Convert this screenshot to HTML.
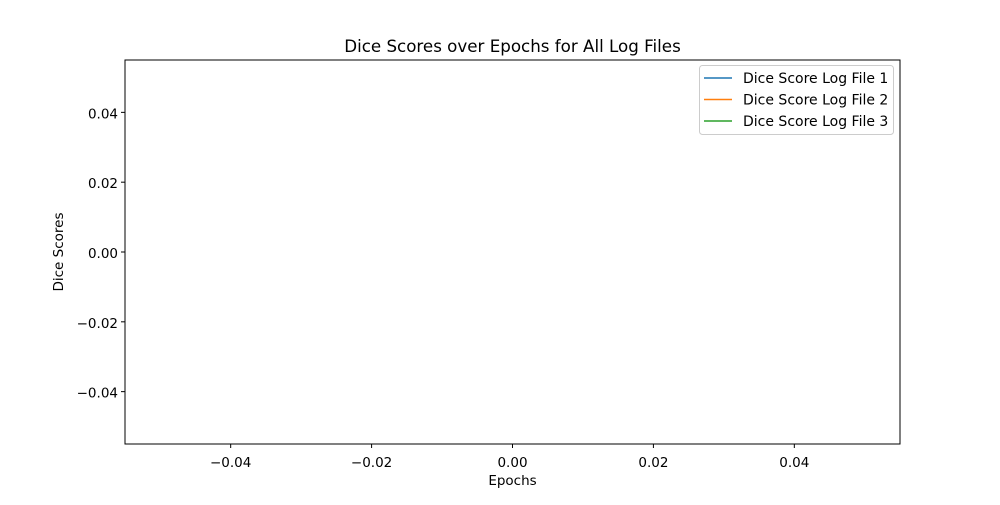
<!DOCTYPE html>
<html><head><meta charset="utf-8"><style>
body{margin:0;background:#fff;}
svg text{font-family:"DejaVu Sans","Liberation Sans",sans-serif;fill:#000;}
</style></head><body>
<svg width="1000" height="500" viewBox="0 0 1000 500">
<rect width="1000" height="500" fill="#fff"/>
<text x="512.5" y="52" font-size="16.7" text-anchor="middle">Dice Scores over Epochs for All Log Files</text>
<g id="xticks"></g>
<g id="yticks"></g>
<g id="series"></g>
<rect x="125" y="60" width="775" height="384" fill="none" stroke="#000" stroke-width="1"/>
<text x="512.5" y="485" font-size="13.5" text-anchor="middle">Epochs</text>
<text x="63" y="252" font-size="13.5" text-anchor="middle" transform="rotate(-90 63 252)">Dice Scores</text>
<g>
<rect x="699.5" y="65.5" width="194" height="69" rx="3" fill="#fff" stroke="#ccc"/>
<g id="legend-items"></g>
</g>
</svg>
<script>
const seriesNames=["Dice Score Log File 1","Dice Score Log File 2","Dice Score Log File 3"];
const seriesColors=["#1f77b4","#ff7f0e","#2ca02c"];
const epochs1=[],epochs2=[],epochs3=[];
const scores1=[],scores2=[],scores3=[];
const xTickValues=[-0.04,-0.02,0.00,0.02,0.04];
const yTickValues=[0.04,0.02,0.00,-0.02,-0.04];
const xTickLabels=["\u22120.04","\u22120.02","0.00","0.02","0.04"];
const yTickLabels=["0.04","0.02","0.00","\u22120.02","\u22120.04"];
const NS="http://www.w3.org/2000/svg";
const xmin=-0.055,xmax=0.055,ymin=-0.055,ymax=0.055;
const L=125,R=900,T=60,B=444;
const xs=v=>L+(v-xmin)/(xmax-xmin)*(R-L);
const ys=v=>B-(v-ymin)/(ymax-ymin)*(B-T);
function mk(tag,attrs,parent){const e=document.createElementNS(NS,tag);for(const k in attrs)e.setAttribute(k,attrs[k]);parent.appendChild(e);return e;}
const gx=document.getElementById('xticks'),gy=document.getElementById('yticks');
xTickValues.forEach((v,i)=>{const x=xs(v);
 const l=mk('line',{x1:x,x2:x,y1:B,y2:B+4,stroke:'#000'},gx);
 
 
 const t=mk('text',{x:x,y:B+23,'font-size':13.5,'text-anchor':'middle'},gx);t.textContent=xTickLabels[i];
 
 });
yTickValues.forEach((v,i)=>{const y=ys(v);
 const l=mk('line',{x1:L-4,x2:L,y1:y,y2:y,stroke:'#000'},gy);
 
 
 const t=mk('text',{x:L-7,y:y+6,'font-size':13.5,'text-anchor':'end'},gy);t.textContent=yTickLabels[i];
 
 });
const gs=document.getElementById('series');
[[epochs1,scores1],[epochs2,scores2],[epochs3,scores3]].forEach((d,i)=>{
 const pts=d[0].map((e,j)=>xs(e)+','+ys(d[1][j])).join(' ');
 const p=mk('polyline',{points:pts,fill:'none',stroke:seriesColors[i],'stroke-width':1.5},gs);
 
 });
const gl=document.getElementById('legend-items');
seriesNames.forEach((n,i)=>{const y=78+i*21.5;
 const l=mk('line',{x1:704,x2:732,y1:y,y2:y,stroke:seriesColors[i],'stroke-width':1.5},gl);
 
 
 const t=mk('text',{x:743,y:y+5,'font-size':14},gl);t.textContent=n;
 
 });
</script>
</body></html>
